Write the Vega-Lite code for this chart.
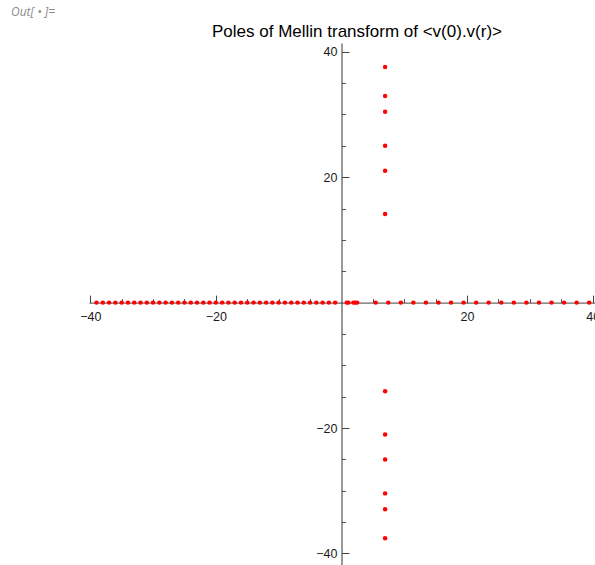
{
  "$schema": "https://vega.github.io/schema/vega-lite/v6.json",
  "autosize": "none",
  "padding": {"left": 89, "top": 43, "right": 0, "bottom": 0},
  "width": 509,
  "height": 523,
  "background": "white",
  "title": {
    "text": "Poles of Mellin transform of <v(0).v(r)>",
    "frame": "group",
    "anchor": "middle",
    "dx": 13.5,
    "dy": 54,
    "offset": 6,
    "baseline": "alphabetic",
    "font": "Liberation Sans",
    "fontSize": 17,
    "fontWeight": "normal",
    "color": "#000000"
  },
  "data": {
    "values": [
      {"re": -1, "im": 0, "kind": "real"}, {"re": -2, "im": 0, "kind": "real"},
      {"re": -3, "im": 0, "kind": "real"}, {"re": -4, "im": 0, "kind": "real"},
      {"re": -5, "im": 0, "kind": "real"}, {"re": -6, "im": 0, "kind": "real"},
      {"re": -7, "im": 0, "kind": "real"}, {"re": -8, "im": 0, "kind": "real"},
      {"re": -9, "im": 0, "kind": "real"}, {"re": -10, "im": 0, "kind": "real"},
      {"re": -11, "im": 0, "kind": "real"}, {"re": -12, "im": 0, "kind": "real"},
      {"re": -13, "im": 0, "kind": "real"}, {"re": -14, "im": 0, "kind": "real"},
      {"re": -15, "im": 0, "kind": "real"}, {"re": -16, "im": 0, "kind": "real"},
      {"re": -17, "im": 0, "kind": "real"}, {"re": -18, "im": 0, "kind": "real"},
      {"re": -19, "im": 0, "kind": "real"}, {"re": -20, "im": 0, "kind": "real"},
      {"re": -21, "im": 0, "kind": "real"}, {"re": -22, "im": 0, "kind": "real"},
      {"re": -23, "im": 0, "kind": "real"}, {"re": -24, "im": 0, "kind": "real"},
      {"re": -25, "im": 0, "kind": "real"}, {"re": -26, "im": 0, "kind": "real"},
      {"re": -27, "im": 0, "kind": "real"}, {"re": -28, "im": 0, "kind": "real"},
      {"re": -29, "im": 0, "kind": "real"}, {"re": -30, "im": 0, "kind": "real"},
      {"re": -31, "im": 0, "kind": "real"}, {"re": -32, "im": 0, "kind": "real"},
      {"re": -33, "im": 0, "kind": "real"}, {"re": -34, "im": 0, "kind": "real"},
      {"re": -35, "im": 0, "kind": "real"}, {"re": -36, "im": 0, "kind": "real"},
      {"re": -37, "im": 0, "kind": "real"}, {"re": -38, "im": 0, "kind": "real"},
      {"re": -39, "im": 0, "kind": "real"},
      {"re": 0.85, "im": 0, "kind": "real"}, {"re": 1.1, "im": 0, "kind": "real"},
      {"re": 1.9, "im": 0, "kind": "real"}, {"re": 2.2, "im": 0, "kind": "real"},
      {"re": 2.5, "im": 0, "kind": "real"},
      {"re": 5.45, "im": 0, "kind": "real"}, {"re": 7.45, "im": 0, "kind": "real"},
      {"re": 9.45, "im": 0, "kind": "real"}, {"re": 11.45, "im": 0, "kind": "real"},
      {"re": 13.45, "im": 0, "kind": "real"}, {"re": 15.45, "im": 0, "kind": "real"},
      {"re": 17.45, "im": 0, "kind": "real"}, {"re": 19.45, "im": 0, "kind": "real"},
      {"re": 21.45, "im": 0, "kind": "real"}, {"re": 23.45, "im": 0, "kind": "real"},
      {"re": 25.45, "im": 0, "kind": "real"}, {"re": 27.45, "im": 0, "kind": "real"},
      {"re": 29.45, "im": 0, "kind": "real"}, {"re": 31.45, "im": 0, "kind": "real"},
      {"re": 33.45, "im": 0, "kind": "real"}, {"re": 35.45, "im": 0, "kind": "real"},
      {"re": 37.45, "im": 0, "kind": "real"}, {"re": 39.45, "im": 0, "kind": "real"},
      {"re": 6.95, "im": 14.13, "kind": "complex"}, {"re": 6.95, "im": -14.13, "kind": "complex"},
      {"re": 6.95, "im": 21.02, "kind": "complex"}, {"re": 6.95, "im": -21.02, "kind": "complex"},
      {"re": 6.95, "im": 25.01, "kind": "complex"}, {"re": 6.95, "im": -25.01, "kind": "complex"},
      {"re": 6.95, "im": 30.42, "kind": "complex"}, {"re": 6.95, "im": -30.42, "kind": "complex"},
      {"re": 6.95, "im": 32.94, "kind": "complex"}, {"re": 6.95, "im": -32.94, "kind": "complex"},
      {"re": 6.95, "im": 37.59, "kind": "complex"}, {"re": 6.95, "im": -37.59, "kind": "complex"}
    ]
  },
  "layer": [
    {
      "transform": [{"filter": "datum.kind === 'real'"}],
      "mark": {"type": "point", "filled": true, "color": "#ff0000", "opacity": 1, "size": 20},
      "encoding": {
        "x": {
          "field": "re", "type": "quantitative",
          "scale": {"domain": [-40.2, 40.85], "nice": false, "zero": false},
          "axis": {
            "orient": "bottom", "offset": -263.4, "title": null,
            "values": [-35, -30, -25, -15, -10, -5, 5, 10, 15, 25, 30, 35],
            "labels": false, "grid": false,
            "domain": true, "domainColor": "#444444", "domainWidth": 1,
            "ticks": true, "tickSize": -4, "tickColor": "#555555", "tickWidth": 1
          }
        },
        "y": {
          "field": "im", "type": "quantitative",
          "scale": {"domain": [-42, 41.4], "nice": false, "zero": false},
          "axis": {
            "orient": "left", "offset": -252.5, "title": null,
            "values": [-35, -30, -25, -15, -10, -5, 5, 10, 15, 25, 30, 35],
            "labels": false, "grid": false,
            "domain": true, "domainColor": "#333333", "domainWidth": 1,
            "ticks": true, "tickSize": -4, "tickColor": "#555555", "tickWidth": 1
          }
        }
      }
    },
    {
      "transform": [{"filter": "datum.kind === 'complex'"}],
      "mark": {"type": "point", "filled": true, "color": "#ff0000", "opacity": 1, "size": 20},
      "encoding": {
        "x": {
          "field": "re", "type": "quantitative",
          "scale": {"domain": [-40.2, 40.85], "nice": false, "zero": false},
          "axis": {
            "orient": "bottom", "offset": -263.4, "title": null,
            "values": [-40, -20, 20, 40],
            "grid": false, "domain": false,
            "ticks": true, "tickSize": -7.5, "tickColor": "#444444", "tickWidth": 1,
            "labels": true, "labelFlush": false, "labelOverlap": false, "labelBound": false,
            "labelPadding": 15, "labelBaseline": "top",
            "labelFont": "Liberation Sans", "labelFontSize": 12.5, "labelColor": "#1a1a1a"
          }
        },
        "y": {
          "field": "im", "type": "quantitative",
          "scale": {"domain": [-42, 41.4], "nice": false, "zero": false},
          "axis": {
            "orient": "left", "offset": -252.5,
            "values": [-40, -20, 20, 40],
            "grid": false, "domain": false,
            "ticks": true, "tickSize": -7.5, "tickColor": "#444444", "tickWidth": 1,
            "labels": true, "labelFlush": false, "labelOverlap": false, "labelBound": false,
            "labelPadding": 12, "labelBaseline": "middle",
            "labelFont": "Liberation Sans", "labelFontSize": 12.5, "labelColor": "#1a1a1a",
            "title": "Out[ • ]=",
            "titleAngle": 0, "titleX": -331, "titleY": -27.5,
            "titleAlign": "left", "titleBaseline": "alphabetic",
            "titleFont": "Open Sans", "titleFontStyle": "italic", "titleFontWeight": "normal",
            "titleFontSize": 12, "titleColor": "#8a8a8a"
          }
        }
      }
    }
  ],
  "resolve": {"axis": {"x": "independent", "y": "independent"}},
  "config": {
    "view": {"stroke": null},
    "axis": {"grid": false}
  }
}
